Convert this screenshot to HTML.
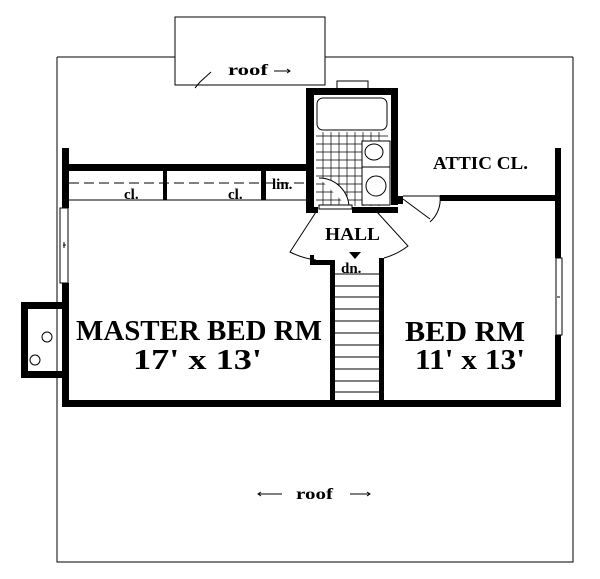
<!DOCTYPE html>
<html><head><style>
html,body{margin:0;padding:0;background:#fff;}
svg{display:block;}
text{font-family:"Liberation Serif",serif;font-weight:bold;fill:#000;}
</style></head><body>
<svg width="600" height="579" viewBox="0 0 600 579" xmlns="http://www.w3.org/2000/svg">
<g fill="none" stroke="#000" stroke-width="1">
<path d="M57,57 H175 M325,57 H573 M57,57 V562 H573 V57"/>
<rect x="175" y="17" width="150" height="68"/>
<path d="M211,72 L200,82 M195,88 L200,82" />
<path d="M274,71 H290 M287,69 L290,71 L287,73"/>
<path d="M258,494 H282 M261,492 L258,494 L261,496 M350,494 H370 M367,492 L370,494 L367,496"/>
</g>
<g fill="#000" stroke="none">
<rect x="62" y="148" width="7" height="60"/>
<rect x="62" y="283" width="7" height="124"/>
<rect x="62" y="164" width="246" height="7"/>
<rect x="163" y="171" width="4" height="29"/>
<rect x="261" y="171" width="5" height="29"/>
<rect x="306" y="88" width="92" height="7"/>
<rect x="306" y="88" width="8" height="125"/>
<rect x="391" y="88" width="7" height="117"/>
<rect x="352" y="207" width="46" height="6"/>
<rect x="306" y="207" width="12" height="6"/>
<rect x="398" y="196" width="5" height="8"/>
<rect x="440" y="195" width="120" height="6"/>
<rect x="555" y="148" width="6" height="110"/>
<rect x="555" y="335" width="6" height="72"/>
<rect x="62" y="400" width="499" height="7"/>
<rect x="21" y="302" width="44" height="7"/>
<rect x="21" y="302" width="7" height="76"/>
<rect x="21" y="371" width="44" height="7"/>
<rect x="330" y="262" width="5" height="140"/>
<rect x="379" y="258" width="5" height="144"/>
<rect x="310" y="260" width="25" height="5"/>
<rect x="310" y="255" width="4" height="10"/>
<path d="M349,252 L361,252 L355,259 Z"/>
</g>
<g fill="none" stroke="#000" stroke-width="1">
<path d="M69,200 H308"/>
<path d="M69,183 H308" stroke-dasharray="10,5"/>
<rect x="60" y="208" width="8" height="75"/>
<path d="M63,245 H66 M64,242 V248"/>
<rect x="556" y="258" width="6" height="77"/>
<path d="M557,297 H560"/>
<rect x="337" y="81" width="31" height="8"/>
<rect x="317" y="98" width="70" height="32" rx="6"/>
<path d="M316,136 H388 M316,144 H388 M316,152 H388 M316,160 H388 M316,168 H388 M316,176 H388 M316,184 H388 M316,192 H388 M316,200 H388" stroke-width="0.7"/>
<path d="M323,132 V206 M331,132 V206 M339,132 V206 M347,132 V206 M355,132 V206 M363,132 V206 M371,132 V206 M379,132 V206" stroke-width="0.7"/>
<rect x="362" y="141" width="28" height="26" fill="#fff"/>
<ellipse cx="374" cy="152" rx="9" ry="8" fill="#fff"/>
<rect x="362" y="167" width="28" height="38" fill="#fff"/>
<circle cx="376" cy="186" r="10" fill="#fff"/>
<path d="M319,178 A30,30 0 0 1 349,208" fill="#fff"/>
<rect x="319" y="205" width="33" height="4" fill="#fff"/>
<path d="M403,199 L430,219 M403,196 L440,196 A30,30 0 0 1 430,222"/>
<path d="M316,212 L290,252 A80,80 0 0 0 316,260"/>
<path d="M377,212 L408,246 A70,70 0 0 1 384,258"/>
<path d="M335,274 H379 M335,286 H379 M335,297 H379 M335,309 H379 M335,321 H379 M335,333 H379 M335,345 H379 M335,357 H379 M335,369 H379 M335,381 H379 M335,392 H379"/>
<circle cx="47" cy="337" r="5"/>
<circle cx="35" cy="360" r="5"/>
</g>
<text x="228" y="75" font-size="16" textLength="40" lengthAdjust="spacingAndGlyphs">roof</text>
<text x="296" y="499" font-size="16" textLength="37" lengthAdjust="spacingAndGlyphs">roof</text>
<text x="433" y="169" font-size="18" textLength="95" lengthAdjust="spacingAndGlyphs">ATTIC CL.</text>
<text x="325" y="240" font-size="18" textLength="55" lengthAdjust="spacingAndGlyphs">HALL</text>
<text x="341" y="273" font-size="15">dn.</text>
<text x="124" y="199" font-size="15">cl.</text>
<text x="228" y="199" font-size="15">cl.</text>
<text x="272" y="189" font-size="15">lin.</text>
<text x="76" y="340" font-size="29" textLength="246" lengthAdjust="spacingAndGlyphs">MASTER BED RM</text>
<text x="133" y="369" font-size="29" textLength="129" lengthAdjust="spacingAndGlyphs">17' x 13'</text>
<text x="405" y="341" font-size="29" textLength="120" lengthAdjust="spacingAndGlyphs">BED RM</text>
<text x="415" y="369" font-size="29" textLength="110" lengthAdjust="spacingAndGlyphs">11' x 13'</text>
</svg>
</body></html>
